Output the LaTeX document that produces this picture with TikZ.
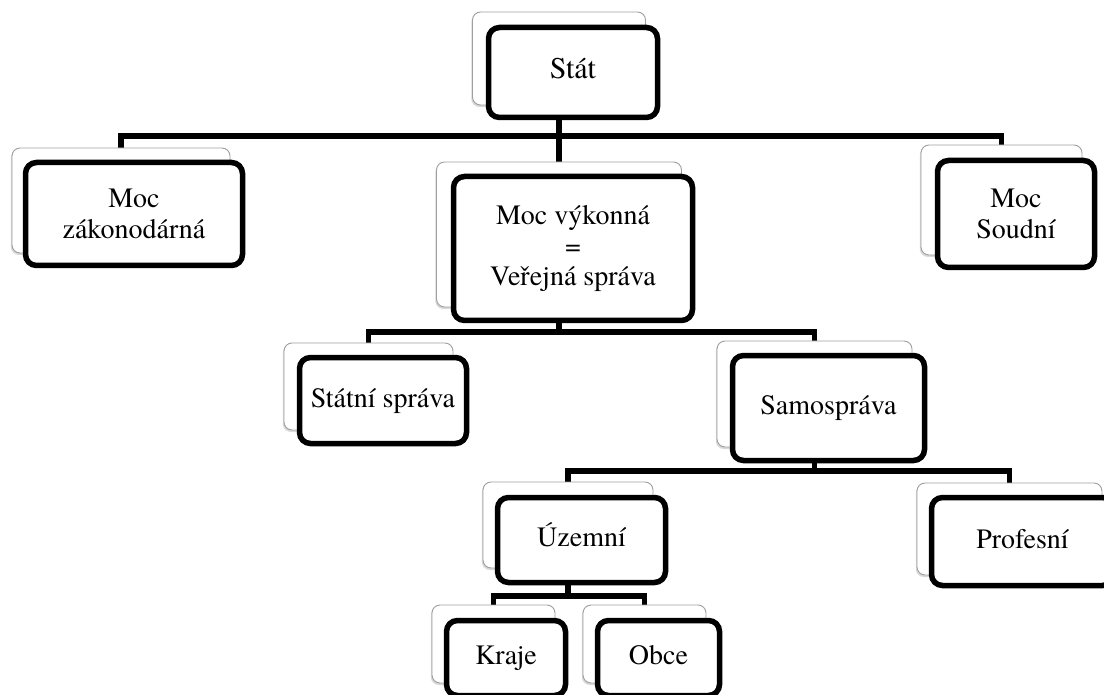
\documentclass[tikz,border=0pt]{standalone}
\usepackage{fontspec}
\setmainfont{texgyretermes-regular.otf}
\usetikzlibrary{shadows,backgrounds}
\begin{document}
\begin{tikzpicture}[x=1pt,y=-1pt,
  back/.style={draw=gray!75, line width=0.9pt, fill=white, rounded corners=8pt, inner sep=0pt,
    drop shadow={shadow xshift=-1.2pt, shadow yshift=-2pt, opacity=0.3, fill=gray}},
  box/.style={draw=black, line width=5.5pt, fill=white, rounded corners=11pt, inner sep=0pt,
    align=center, font=\fontsize{28}{30.5}\selectfont},
  oneline/.style={text height=19pt, text depth=6pt},
  link/.style={draw=black, line width=5.5pt}]
\useasboundingbox (0,0) rectangle (1104,695);
\begin{scope}
\clip (0,0) rectangle (1104,695);
% Stát
\node[back, minimum width=173pt, minimum height=93pt] (statS) at (559,58.5) {};
\node[box, oneline, minimum width=169pt, minimum height=90pt, font=\fontsize{30}{32}\selectfont] (stat) at (573,72.5) {Stát};
% Moc zákonodárná
\node[back, minimum width=218pt, minimum height=105pt] (zakS) at (121,200.5) {};
\node[box, minimum width=217pt, minimum height=103pt] (zak) at (134,214) {Moc\\zákonodárná};
% Moc výkonná
\node[back, minimum width=245pt, minimum height=145pt] (vykS) at (559,234.5) {};
\node[box, minimum width=239pt, minimum height=144pt] (vyk) at (573,248.5) {Moc výkonná\\=\\Veřejná správa};
% Moc Soudní
\node[back, minimum width=161pt, minimum height=110pt] (soudS) at (1001.5,200) {};
\node[box, minimum width=157pt, minimum height=107pt] (soud) at (1016,214) {Moc\\Soudní};
% Státní správa
\node[back, minimum width=169pt, minimum height=87pt] (stspS) at (368.5,386.5) {};
\node[box, oneline, minimum width=167pt, minimum height=86pt] (stsp) at (383,400.5) {Státní správa};
% Samospráva
\node[back, minimum width=195pt, minimum height=106pt] (sampS) at (814.5,394) {};
\node[box, oneline, minimum width=192pt, minimum height=105pt] (samp) at (828.5,408) {Samospráva};
% Územní
\node[back, minimum width=170pt, minimum height=86pt] (uzemS) at (568,525) {};
\node[box, oneline, minimum width=168pt, minimum height=85pt] (uzem) at (581.5,540) {Územní};
% Profesní
\node[back, minimum width=185pt, minimum height=92pt] (profS) at (1009.5,529) {};
\node[box, oneline, minimum width=182pt, minimum height=88pt] (prof) at (1022.5,541.5) {Profesní};
% Kraje
\node[back, minimum width=123pt, minimum height=78pt] (krajS) at (493.5,644) {};
\node[box, oneline, minimum width=119pt, minimum height=75pt] (kraj) at (506,658) {Kraje};
% Obce
\node[back, minimum width=123pt, minimum height=78pt] (obceS) at (644.5,644) {};
\node[box, oneline, minimum width=122pt, minimum height=75pt] (obce) at (658.5,658) {Obce};
\end{scope}
\coordinate (bus1) at (0,136);
\coordinate (bus2) at (0,332);
\coordinate (bus3) at (0,471);
\coordinate (bus4) at (0,596);
\begin{pgfonlayer}{background}
\draw[link] (statS.center) -- (statS.center |- bus1) -| (zakS.north);
\draw[link] (statS.center |- bus1) -| (soudS.north);
\draw[link] (statS.center |- bus1) -- (vykS.north);
\draw[link] (vykS.center) -- (vykS.center |- bus2) -| (stspS.north);
\draw[link] (vykS.center |- bus2) -| (sampS.north);
\draw[link] (sampS.center) -- (sampS.center |- bus3) -| (uzemS.north);
\draw[link] (sampS.center |- bus3) -| (profS.north);
\draw[link] (uzemS.center) -- (uzemS.center |- bus4) -| (krajS.north);
\draw[link] (uzemS.center |- bus4) -| (obceS.north);
\end{pgfonlayer}
\end{tikzpicture}
\end{document}
